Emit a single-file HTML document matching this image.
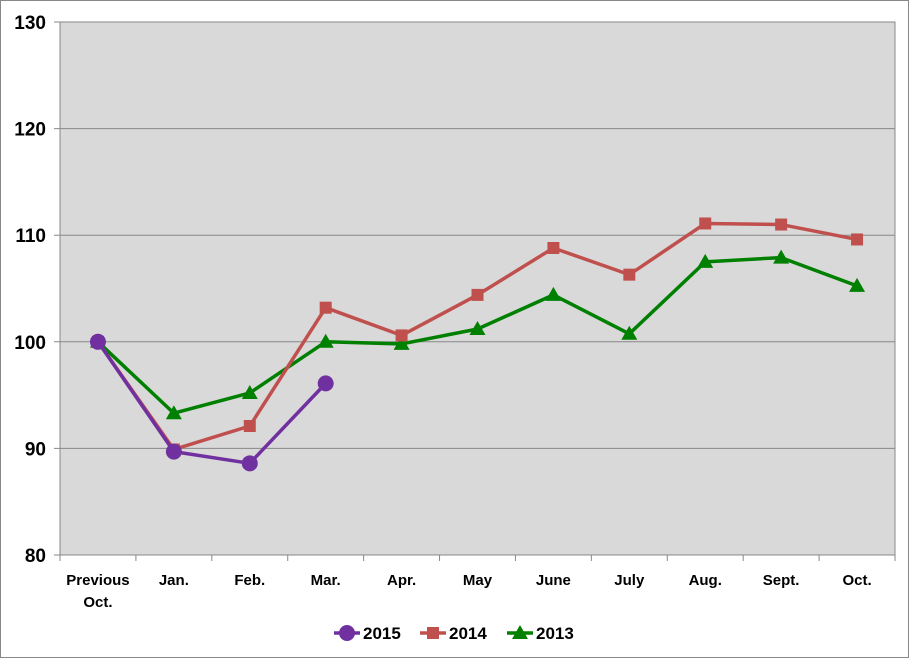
<!DOCTYPE html>
<html><head><meta charset="utf-8"><style>
html,body{margin:0;padding:0;background:#fff}
svg{display:block;font-family:"Liberation Sans",Arial,sans-serif;font-weight:bold}
</style></head><body>
<svg id="chart" width="910" height="660">
<rect x="0.5" y="0.5" width="908" height="657" fill="#fff" stroke="#888"/>
<g id="plot"></g>
</svg>
<script>
const categories=["Previous|Oct.","Jan.","Feb.","Mar.","Apr.","May","June","July","Aug.","Sept.","Oct."];
const yTicks=[80,90,100,110,120,130];
const s2015=[100,89.7,88.6,96.1];
const s2014=[100,89.9,92.1,103.2,100.6,104.4,108.8,106.3,111.1,111.0,109.6];
const s2013=[100,93.3,95.2,100,99.8,101.2,104.4,100.75,107.5,107.9,105.25];
const NS="http://www.w3.org/2000/svg";
const L=60,R=895,T=22,B=555,ymin=80,ymax=130;
const bw=(R-L)/categories.length;
const x=i=>L+bw*(i+0.5);
const y=v=>B-(v-ymin)/(ymax-ymin)*(B-T);
const g=document.getElementById('plot');
function mk(t,a){const e=document.createElementNS(NS,t);for(const k in a)e.setAttribute(k,a[k]);g.appendChild(e);return e;}
let e=mk('rect',{x:L,y:T,width:R-L,height:B-T,fill:'#d9d9d9',stroke:'#888'});


yTicks.forEach(v=>{
 let l=mk('line',{x1:L-6,x2:R,y1:y(v),y2:y(v),stroke:'#888'});
 
 
 let t=mk('text',{x:L-14,y:y(v)+7,'text-anchor':'end','font-size':19});
 t.textContent=v;
 
 
});
categories.forEach((c,i)=>{
 let tk=mk('line',{x1:L+bw*i,x2:L+bw*i,y1:B,y2:B+6,stroke:'#888'});
 
 
 c.split('|').forEach((p,j)=>{
  let t=mk('text',{x:x(i),y:585+j*22,'text-anchor':'middle','font-size':15});
  t.textContent=p;
  
  
 });
});
let last=mk('line',{x1:R,x2:R,y1:B,y2:B+6,stroke:'#888'});


function marker(shape,cx,cy,col){
 let m;
 if(shape==='circle')m=mk('circle',{cx:cx,cy:cy,r:8,fill:col});
 else if(shape==='square')m=mk('rect',{x:cx-6,y:cy-6,width:12,height:12,fill:col});
 else m=mk('polygon',{points:`${cx},${cy-8} ${cx+8},${cy+6} ${cx-8},${cy+6}`,fill:col});
 return m;
}
function series(data,col,shape,name){
 let p=mk('polyline',{points:data.map((v,i)=>x(i)+','+y(v)).join(' '),fill:'none',stroke:col,'stroke-width':3.5,'stroke-linejoin':'round'});
 
 
 data.forEach((v,i)=>{
  let m=marker(shape,x(i),y(v),col);
  
  
 });
}
series(s2013,'#008000','tri','2013');
series(s2014,'#c0504d','square','2014');
series(s2015,'#7030a0','circle','2015');
const legend=[['2015','#7030a0','circle',334],['2014','#c0504d','square',420],['2013','#008000','tri',507]];
legend.forEach(([n,c,s,lx])=>{
 let l=mk('line',{x1:lx,x2:lx+26,y1:633,y2:633,stroke:c,'stroke-width':3.5});
 
 
 let m=marker(s,lx+13,633,c);
 
 
 let t=mk('text',{x:lx+29,y:639,'font-size':17});
 t.textContent=n;
 
 
});
</script>
</body></html>
